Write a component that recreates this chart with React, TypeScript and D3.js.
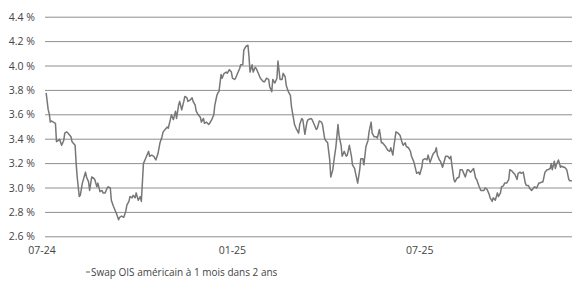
import React from "react";
import * as d3 from "d3";

const seriesName = "Swap OIS américain à 1 mois dans 2 ans";
const yTicks = [2.6, 2.8, 3.0, 3.2, 3.4, 3.6, 3.8, 4.0, 4.2, 4.4];
const xTickDates = ["2024-07-01", "2025-01-01", "2025-07-01"];
const xTickLabels = ["07-24", "01-25", "07-25"];

const dates2024 = [
  "07-05","07-06","07-07","07-08","07-09","07-10","07-12","07-14","07-15","07-17","07-18","07-20","07-22","07-23","07-25","07-27","07-29","07-30",
  "08-02","08-03","08-04","08-06","08-07","08-09","08-12","08-13","08-15","08-16","08-18","08-20","08-21","08-23","08-24","08-26","08-28","08-29","08-31",
  "09-02","09-03","09-05","09-06","09-08","09-10","09-11","09-13","09-14","09-16","09-18","09-20","09-21","09-23","09-24","09-26","09-27","09-29","09-30",
  "10-02","10-04","10-05","10-07","10-09","10-10","10-12","10-13","10-15","10-17","10-19","10-21","10-23","10-25","10-26","10-28","10-30","10-31",
  "11-02","11-03","11-05","11-07","11-08","11-10","11-11","11-13","11-15","11-16","11-18","11-19","11-21","11-23","11-24","11-26","11-27","11-29",
  "12-01","12-02","12-04","12-05","12-07","12-09","12-10","12-12","12-14","12-15","12-17","12-18","12-19","12-21","12-22","12-24","12-26","12-27","12-29","12-31",
];
const values2024 = [
  3.78,3.71,3.64,3.61,3.54,3.55,3.54,3.53,3.38,3.39,3.40,3.35,3.39,3.45,3.46,3.44,3.42,3.38,
  3.35,3.20,3.09,2.93,2.94,3.04,3.13,3.09,3.05,2.98,3.09,3.08,3.07,3.01,3.04,2.97,2.98,2.96,2.96,
  3.00,3.01,3.00,2.90,2.85,2.81,2.79,2.74,2.76,2.77,2.76,2.81,2.86,2.89,2.93,2.92,2.94,2.92,2.96,
  2.90,2.93,2.89,3.20,3.24,3.26,3.30,3.26,3.27,3.26,3.23,3.28,3.37,3.42,3.46,3.48,3.50,3.49,
  3.56,3.60,3.56,3.63,3.57,3.68,3.71,3.64,3.71,3.75,3.74,3.71,3.72,3.74,3.71,3.68,3.63,3.60,
  3.58,3.54,3.57,3.53,3.54,3.52,3.53,3.56,3.60,3.68,3.76,3.78,3.79,3.93,3.90,3.94,3.95,3.94,3.97,3.95,
];

const dates2025 = [
  "01-01","01-03","01-04","01-06","01-08","01-09","01-11","01-12","01-14","01-16","01-17","01-18","01-20","01-21","01-23","01-24","01-26","01-28","01-29","01-31",
  "02-01","02-03","02-05","02-06","02-08","02-09","02-11","02-13","02-14","02-16","02-18","02-19","02-21","02-22","02-24","02-26","02-27",
  "03-01","03-02","03-04","03-06","03-07","03-09","03-10","03-12","03-14","03-15","03-18","03-19","03-21","03-23","03-24","03-26","03-28","03-29","03-31",
  "04-01","04-03","04-05","04-06","04-08","04-09","04-11","04-13","04-14","04-16","04-17","04-19","04-21","04-22","04-24","04-26","04-27","04-29","04-30",
  "05-02","05-04","05-05","05-07","05-08","05-10","05-12","05-13","05-15","05-16","05-18","05-20","05-21","05-23","05-25","05-26","05-28","05-29","05-31",
  "06-02","06-03","06-05","06-06","06-08","06-10","06-12","06-14","06-15","06-17","06-18","06-20","06-22","06-23","06-25","06-26","06-28","06-30",
  "07-01","07-03","07-04","07-06","07-08","07-09","07-11","07-13","07-14","07-16","07-17","07-18","07-20","07-21","07-23","07-25","07-26","07-28","07-30","07-31",
  "08-01","08-03","08-04","08-06","08-08","08-09","08-11","08-12","08-14","08-16","08-17","08-19","08-20","08-22","08-24","08-25","08-27","08-29","08-30",
  "09-01","09-02","09-04","09-06","09-07","09-09","09-10","09-12","09-14","09-15","09-17","09-18","09-20","09-21","09-23","09-25","09-26","09-28","09-29",
  "10-01","10-03","10-04","10-06","10-07","10-09","10-11","10-12","10-14","10-15","10-17","10-19","10-20","10-22","10-24","10-25","10-27","10-28","10-30",
  "11-01","11-02","11-04","11-05","11-06","11-08","11-09","11-10","11-12","11-14","11-15","11-17","11-18","11-20","11-22","11-23","11-25",
];
const values2025 = [
  3.90,3.89,3.90,3.94,3.98,4.01,4.01,4.13,4.16,4.17,4.08,3.95,4.01,3.95,3.99,3.98,3.94,3.90,3.89,3.87,
  3.87,3.90,3.89,3.83,3.79,3.89,3.86,3.90,4.04,3.89,3.89,3.94,3.91,3.84,3.79,3.76,3.67,
  3.57,3.52,3.48,3.45,3.52,3.57,3.56,3.44,3.54,3.56,3.57,3.56,3.52,3.48,3.49,3.55,3.54,3.52,3.41,
  3.39,3.37,3.23,3.09,3.15,3.22,3.34,3.52,3.43,3.35,3.26,3.30,3.26,3.27,3.35,3.26,3.19,3.16,3.12,
  3.04,3.15,3.24,3.24,3.19,3.34,3.39,3.46,3.54,3.45,3.42,3.42,3.41,3.48,3.37,3.37,3.35,3.34,3.31,
  3.30,3.33,3.27,3.34,3.46,3.45,3.43,3.37,3.35,3.37,3.34,3.33,3.30,3.26,3.22,3.19,3.12,3.13,
  3.11,3.17,3.23,3.24,3.23,3.27,3.21,3.26,3.28,3.30,3.33,3.27,3.23,3.22,3.17,3.23,3.26,3.26,3.24,3.26,
  3.19,3.07,3.05,3.08,3.09,3.15,3.15,3.13,3.09,3.15,3.15,3.13,3.14,3.16,3.08,3.07,3.02,2.98,2.98,
  2.98,3.00,2.99,2.95,2.92,2.89,2.92,2.90,2.96,2.93,2.96,3.01,3.02,3.04,3.04,3.07,3.15,3.14,3.13,
  3.11,3.07,3.12,3.13,3.12,3.13,3.04,3.02,3.02,3.00,2.98,3.00,3.01,3.00,3.04,3.04,3.05,3.05,3.13,
  3.15,3.15,3.16,3.20,3.15,3.22,3.16,3.19,3.23,3.17,3.18,3.17,3.17,3.15,3.07,3.06,3.06,
];

const parse = (s: string) => new Date(s + "T00:00:00Z");

export default function App() {
  const W = 580, H = 290;
  const gridLeft = 45, gridRight = 572;

  const points = [
    ...dates2024.map((d, i) => ({ date: parse("2024-" + d), value: values2024[i] })),
    ...dates2025.map((d, i) => ({ date: parse("2025-" + d), value: values2025[i] })),
  ];

  const x = d3.scaleUtc()
    .domain([parse("2024-07-01"), parse("2025-11-25")])
    .range([42, 571.9]);
  const y = d3.scaleLinear().domain([2.6, 4.4]).range([236.8, 17.2]);

  const line = d3.line<{ date: Date; value: number }>()
    .x((d) => x(d.date))
    .y((d) => y(d.value));

  const font = "'Open Sans', 'DejaVu Sans', sans-serif";

  return (
    <svg width={W} height={H} style={{ position: "absolute", left: 0, top: 0, background: "#fff" }}>
      {yTicks.map((t) => (
        <g key={t}>
          <line x1={gridLeft} x2={gridRight} y1={y(t)} y2={y(t)} stroke="#8f8f8f" strokeWidth={1} />
          <text x={35} y={y(t)} dy="0.35em" textAnchor="end" fontFamily={font} fontSize={10.5} fill="#444">
            {t.toFixed(1)} %
          </text>
        </g>
      ))}
      {xTickDates.map((d, i) => (
        <text key={d} x={x(parse(d))} y={250} dy="0.35em" textAnchor="middle" fontFamily={font} fontSize={10.5} fill="#444">
          {xTickLabels[i]}
        </text>
      ))}
      <path d={line(points) || ""} fill="none" stroke="#777" strokeWidth={1.5} strokeLinejoin="round" />
      <line x1={86} x2={90} y1={272} y2={272} stroke="#777" strokeWidth={1.2} />
      <text x={91} y={272} dy="0.35em" fontFamily={font} fontSize={10} fill="#444">
        {seriesName}
      </text>
    </svg>
  );
}
